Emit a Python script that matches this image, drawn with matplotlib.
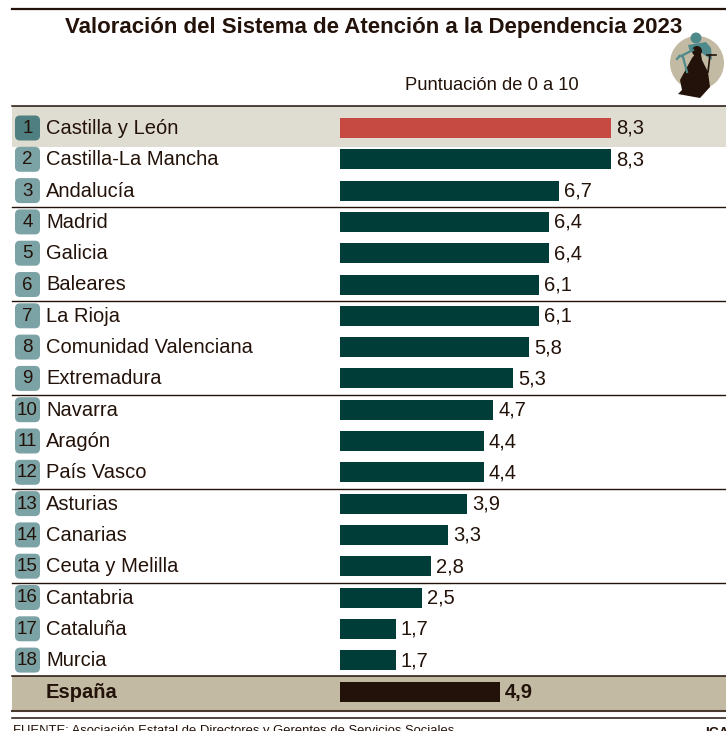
# Valoracion del Sistema de Atencion a la Dependencia 2023
import matplotlib
matplotlib.use('Agg')
import matplotlib.pyplot as plt
from matplotlib.patches import Circle, FancyBboxPatch, Polygon, Rectangle

plt.rcParams['font.family'] = ['Liberation Sans', 'DejaVu Sans']

regions = ['Castilla y León', 'Castilla-La Mancha', 'Andalucía', 'Madrid', 'Galicia', 'Baleares',
           'La Rioja', 'Comunidad Valenciana', 'Extremadura', 'Navarra', 'Aragón', 'País Vasco',
           'Asturias', 'Canarias', 'Ceuta y Melilla', 'Cantabria', 'Cataluña', 'Murcia']
scores = [8.3, 8.3, 6.7, 6.4, 6.4, 6.1, 6.1, 5.8, 5.3, 4.7, 4.4, 4.4, 3.9, 3.3, 2.8, 2.5, 1.7, 1.7]
spain_label = 'España'
spain_score = 4.9

W, H = 726, 731
dark = '#231209'
green = '#003d38'
red = '#c64a41'
teal = '#4e8a8c'

fig = plt.figure(figsize=(W / 100, H / 100), dpi=100)

# capa de fondo en pixeles
bg = fig.add_axes([0, 0, 1, 1])
bg.set_xlim(0, W)
bg.set_ylim(H, 0)
bg.axis('off')

bg.add_patch(Rectangle((12, 106), W - 12, 41, color='#dfddd1', lw=0))
bg.add_patch(Rectangle((12, 676), W - 12, 35, color='#c2baa3', lw=0))
bg.plot([12, W], [9, 9], color=dark, lw=1.6)
bg.plot([12, W], [106, 106], color=dark, lw=1.1)
for y in [206.5, 300.5, 394.5, 488.5, 582.5]:
    bg.plot([12, W], [y, y], color=dark, lw=1.0)
bg.plot([12, W], [675.5, 675.5], color=dark, lw=1.1)
bg.plot([12, W], [711, 711], color='#4a3a2e', lw=1.5)
bg.plot([12, W], [717.5, 717.5], color=dark, lw=1.1)

bg.text(374, 27, 'Valoración del Sistema de Atención a la Dependencia 2023', ha='center', va='center',
        fontsize=16, fontweight='bold', color=dark)
bg.text(491.5, 85.5, 'Puntuación de 0 a 10', ha='center', va='center', fontsize=13.2, color=dark)
bg.text(13, 731, 'FUENTE: Asociación Estatal de Directores y Gerentes de Servicios Sociales', ha='left',
        va='center', fontsize=9.4, color=dark)
bg.text(705, 733, 'ICAL', ha='left', va='center', fontsize=10, fontweight='bold', color=dark)

# icono
bg.add_patch(Circle((697, 63), 27, color='#c2baa3', lw=0))
bg.add_patch(Circle((696, 38), 5.5, color=teal, lw=0))
bg.add_patch(Polygon([(688, 45), (706, 42), (711, 48), (712, 60), (700, 52), (690, 52)], color=teal, lw=0))
bg.plot([677, 680, 683, 687], [59, 55.5, 57, 72], color=teal, lw=1.6)
bg.plot([683, 693], [55, 50], color=teal, lw=1.6)
bg.add_patch(Circle((697, 51), 5, color=dark, lw=0))
bg.add_patch(Polygon([(692, 58), (680, 80), (682, 90), (678, 94), (700, 98), (710, 87), (708, 72), (702, 60),
                      (700, 48)], color=dark, lw=0))
bg.plot([707, 716], [55, 55], color=dark, lw=1.2)
bg.plot([710, 708], [55, 72], color=dark, lw=1.2)

# badges y nombres
row0, step = 128.0, 31.3
for i, name in enumerate(regions):
    yc = row0 + i * step
    col = '#4f7f80' if i == 0 else '#7ba3a5'
    bg.add_patch(FancyBboxPatch((18, yc - 9.5), 19, 19, boxstyle='round,pad=3,rounding_size=5', fc=col, ec='none'))
    bg.text(27.5, yc + 0.5, str(i + 1), ha='center', va='center', fontsize=13.5, color=dark)
    bg.text(46, yc + 0.5, name, ha='left', va='center', fontsize=14.5, color=dark)
bg.text(46, 692.5, spain_label, ha='left', va='center', fontsize=14.5, fontweight='bold', color=dark)

# barras: eje con 0 en x=340 y 8,3 en x=611
px_unit = 271 / 8.3
ax = fig.add_axes([340 / W, 0, (W - 340) / W, 1])
ax.patch.set_alpha(0)
ax.set_xlim(0, (W - 340) / px_unit)
ax.set_ylim((H - row0) / step, -row0 / step)
ax.axis('off')

colors = [red] + [green] * (len(scores) - 1)
ax.barh(range(len(scores)), scores, height=20 / step, color=colors)
for i, v in enumerate(scores):
    ax.text(v + 5 / px_unit, i + 0.5 / step, f'{v:.1f}'.replace('.', ','), ha='left', va='center', fontsize=14.5,
            color=dark)

spain_y = (692 - row0) / step
ax.barh(spain_y, spain_score, height=20 / step, color=dark)
ax.text(spain_score + 5 / px_unit, spain_y + 0.5 / step, f'{spain_score:.1f}'.replace('.', ','), ha='left', va='center',
        fontsize=14.5, fontweight='bold', color=dark)

fig.savefig('out.png', dpi=100)
